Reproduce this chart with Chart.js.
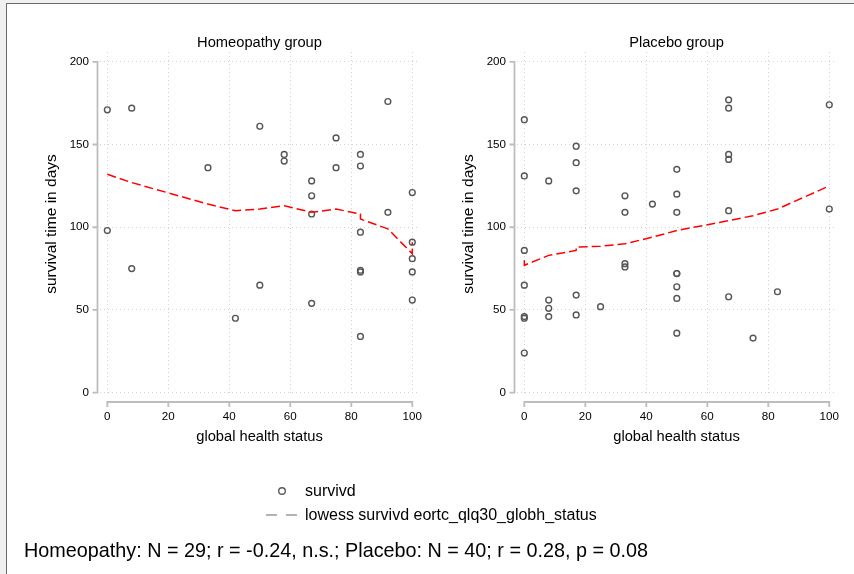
<!DOCTYPE html>
<html><head><meta charset="utf-8">
<script src="https://cdn.jsdelivr.net/npm/chart.js@4.4.0/dist/chart.umd.min.js"></script>
<style>
html,body{margin:0;padding:0;width:854px;height:574px;overflow:hidden;background:#f0f0f0;font-family:"Liberation Sans",Arial,sans-serif;}
#frame{position:absolute;left:6px;top:3px;width:860px;height:600px;background:#fff;border-left:1px solid #6a6a6a;border-top:1px solid #6a6a6a;}
.cv{position:absolute;top:0;width:437px;height:460px;}
#c1{left:0px}
#c2{left:417px}
#legend{position:absolute;left:0;top:0;width:854px;height:574px;pointer-events:none;}
.lt{position:absolute;font-size:16px;line-height:16px;color:#000;white-space:nowrap;}
#note{position:absolute;left:24px;top:539px;font-size:19.8px;line-height:22px;color:#000;white-space:nowrap;}
</style>
</head><body>
<div id="frame"></div>
<canvas id="c1" class="cv" width="437" height="460"></canvas>
<canvas id="c2" class="cv" width="437" height="460"></canvas>
<svg id="legend" width="854" height="574">
  <circle cx="282" cy="491" r="3.3" fill="none" stroke="#5a5a5a" stroke-width="1.4"/>
  <line x1="266" y1="515" x2="297" y2="515" stroke="#9a9a9a" stroke-width="1.5" stroke-dasharray="11,9"/>
</svg>
<div class="lt" style="left:305px;top:483px;">survivd</div>
<div class="lt" style="left:305px;top:507px;">lowess survivd eortc_qlq30_globh_status</div>
<div id="note">Homeopathy: N = 29; r = -0.24, n.s.; Placebo: N = 40; r = 0.28, p = 0.08</div>
<script>
// ---- data ----
const titles = ["Homeopathy group", "Placebo group"];
const xTitle = "global health status";
const yTitle = "survival time in days";
const xTicks = [0, 20, 40, 60, 80, 100];
const yTicks = [0, 50, 100, 150, 200];

const homeoX = [0,0,8,8,33,42,50,50,58,58,67,67,67,67,75,75,83,83,83,83,83,83,92,92,100,100,100,100,100];
const homeoY = [171,98,172,75,136,45,161,65,144,140,128,119,108,54,154,136,144,137,97,74,73,34,176,109,121,91,81,73,56];
const homeoLowessX = [0,8,33,42,50,58,67,75,83,83,92,100,100];
const homeoLowessY = [132,127,114,110,111,113,109,111,108,105,99,84,91];

const placeboX = [0,0,0,0,0,0,0,8,8,8,8,17,17,17,17,17,25,33,33,33,33,42,50,50,50,50,50,50,50,50,67,67,67,67,67,67,75,83,100,100];
const placeboY = [165,131,86,65,46,45,24,128,56,51,46,149,139,122,59,47,52,119,109,78,76,114,135,120,109,72,72,64,57,36,177,172,144,141,110,58,33,61,174,111];
const placeboLowessX = [0,0,8,17,17,25,33,42,50,67,75,83,100];
const placeboLowessY = [80,77,83,86,88,88.5,90,94,98,104,107,111,125];

const FONT = "'Liberation Sans', Arial, sans-serif";

const stataAxes = {
  id: 'stataAxes',
  afterDraw(chart) {
    const {ctx, chartArea, scales} = chart;
    const xs = scales.x, ys = scales.y;
    ctx.save();
    ctx.strokeStyle = '#bdbdbd';
    ctx.lineWidth = 1.8;
    ctx.lineCap = 'butt';
    const ax = chartArea.left - 2.5;
    const ay = chartArea.bottom + 6;
    ctx.beginPath();
    ctx.moveTo(ax, ys.getPixelForValue(yTicks[0]) + 0.9);
    ctx.lineTo(ax, ys.getPixelForValue(yTicks[yTicks.length - 1]) - 0.9);
    yTicks.forEach(v => { const p = ys.getPixelForValue(v); ctx.moveTo(ax - 5, p); ctx.lineTo(ax, p); });
    ctx.moveTo(xs.getPixelForValue(xTicks[0]) - 0.9, ay);
    ctx.lineTo(xs.getPixelForValue(xTicks[xTicks.length - 1]) + 0.9, ay);
    xTicks.forEach(v => { const p = xs.getPixelForValue(v); ctx.moveTo(p, ay); ctx.lineTo(p, ay + 5); });
    ctx.stroke();
    ctx.restore();
  }
};

function makeChart(id, title, px, py, lx, ly) {
  const pts = px.map((x, i) => ({x: x, y: py[i]}));
  const low = lx.map((x, i) => ({x: x, y: ly[i]}));
  return new Chart(document.getElementById(id), {
    type: 'scatter',
    data: {
      datasets: [
        {data: low, showLine: true, borderColor: '#ff0000', borderWidth: 1.5, borderDash: [9, 4],
         pointRadius: 0, fill: false, tension: 0},
        {data: pts, pointStyle: 'circle', pointRadius: 2.9, borderWidth: 1.4,
         borderColor: '#555555', backgroundColor: 'rgba(0,0,0,0)'}
      ]
    },
    options: {
      responsive: false, animation: false, events: [],
      layout: {padding: {top: 0, left: 0, right: 18, bottom: 0}},
      plugins: {
        legend: {display: false}, tooltip: {enabled: false},
        title: {display: true, text: title, fullSize: false, color: '#000',
                font: {family: FONT, size: 14.7, weight: 'normal'}, padding: {top: 33.7, bottom: 0.7}}
      },
      scales: {
        x: {type: 'linear', min: -2.4, max: 102.2,
            afterBuildTicks: s => { s.ticks = xTicks.map(v => ({value: v})); },
            afterFit: s => { s.height = 64; },
            grid: {color: '#d2d2d2', lineWidth: 1, drawTicks: false},
            border: {display: false, dash: [1, 3]},
            ticks: {padding: 14, color: '#000', font: {family: FONT, size: 11.6}, maxRotation: 0},
            title: {display: true, text: xTitle, color: '#000', font: {family: FONT, size: 14.7}, padding: {top: 0, bottom: 14.7}}},
        y: {type: 'linear', min: -2, max: 205.9,
            afterBuildTicks: s => { s.ticks = yTicks.map(v => ({value: v})); },
            afterFit: s => { s.width = 100; },
            grid: {color: '#d2d2d2', lineWidth: 1, drawTicks: false},
            border: {display: false, dash: [1, 3]},
            ticks: {padding: 11, color: '#000', font: {family: FONT, size: 11.6}},
            title: {display: true, text: yTitle, color: '#000', font: {family: FONT, size: 15.5}, padding: {top: 42.2, bottom: 0}}}
      }
    },
    plugins: [stataAxes]
  });
}

makeChart('c1', titles[0], homeoX, homeoY, homeoLowessX, homeoLowessY);
makeChart('c2', titles[1], placeboX, placeboY, placeboLowessX, placeboLowessY);
</script>
</body></html>
